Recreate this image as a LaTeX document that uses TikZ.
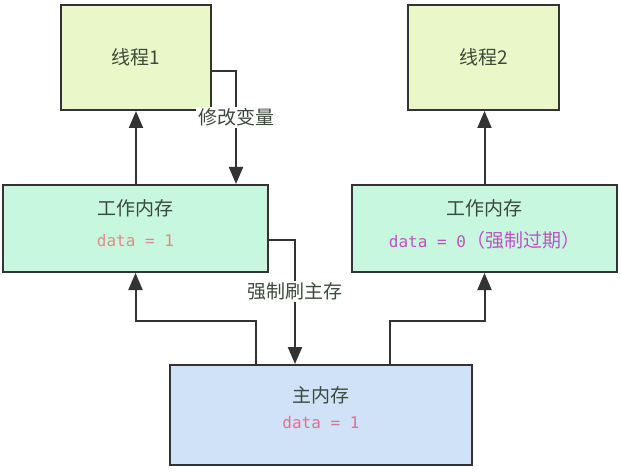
\documentclass[tikz,border=0pt]{standalone}
\usepackage{fontspec}
\usetikzlibrary{arrows.meta,calc}
\newfontfamily\cjk{Noto Sans CJK SC}
\newfontfamily\monof{DejaVu Sans Mono}
\definecolor{threadfill}{HTML}{EAF8C9}
\definecolor{workfill}{HTML}{C8F7E0}
\definecolor{mainfill}{HTML}{CFE2F8}
\definecolor{edge}{HTML}{333333}
\definecolor{txt}{HTML}{3C4A3C}
\definecolor{dataA}{HTML}{DC8E86}
\definecolor{dataB}{HTML}{C050C8}
\definecolor{dataC}{HTML}{E07090}
\begin{document}
\begin{tikzpicture}[x=1pt,y=-1pt,
  box/.style={draw=edge,line width=2pt,rectangle,inner sep=0pt,font=\cjk\fontsize{19}{22}\selectfont,text=txt,align=center},
  arr/.style={draw=edge,line width=2pt,-{Triangle[width=14pt,length=17pt]}},
  lbl/.style={fill=white,inner sep=2pt,font=\cjk\fontsize{19}{22}\selectfont,text=txt}]
\useasboundingbox (0,0) rectangle (621,473);
\node[box,fill=threadfill,minimum width=150pt,minimum height=105pt] (t1) at (136,57.5) {线程1};
\node[box,fill=threadfill,minimum width=151pt,minimum height=105pt] (t2) at (483.5,57.5) {线程2};
\node[box,fill=workfill,minimum width=265pt,minimum height=87pt] (w1) at (135.5,228.5) {};
\node[box,fill=workfill,minimum width=265pt,minimum height=87pt] (w2) at (484.5,228.5) {};
\node[box,fill=mainfill,minimum width=302pt,minimum height=100pt] (m) at (321,415) {};
% texts in boxes
\node[font=\cjk\fontsize{19}{22}\selectfont,text=txt] (w1a) at ([yshift=20pt]w1.center) {工作内存};
\node[font=\monof\fontsize{16}{20}\selectfont,text=dataA] (w1b) at ([yshift=-12pt]w1.center) {data = 1};
\node[font=\cjk\fontsize{19}{22}\selectfont,text=txt] (w2a) at ([yshift=20pt]w2.center) {工作内存};
\node[text=dataB,inner sep=0pt] (w2b) at ([yshift=-12pt]w2.center) {{\monof\fontsize{16}{20}\selectfont data = 0}{\cjk\fontsize{19}{22}\selectfont（强制过期）}};
\node[font=\cjk\fontsize{19}{22}\selectfont,text=txt] (ma) at ([yshift=20pt]m.center) {主内存};
\node[font=\monof\fontsize{16}{20}\selectfont,text=dataC] (mb) at ([yshift=-8pt]m.center) {data = 1};
% connectors
\draw[arr] (t1.south |- w1.north) -- (t1.south);
\draw[arr] ([yshift=-13.5pt]t1.east) -| coordinate[pos=0.706] (lm) ($(w1.north)+(100.5,0)$);
\node[lbl] (lmod) at (lm) {修改变量};
\draw[arr] ([yshift=-11.5pt]w1.east) -| coordinate[pos=0.708] (lf) ($(m.north)+(-26,0)$);
\node[lbl] (lflush) at (lf) {强制刷主存};
\draw[arr] ([xshift=-65pt]m.north) |- ([yshift=-48pt]w1.south) -- (w1.south);
\draw[arr] ([xshift=69pt]m.north) |- ([yshift=-48pt]w2.south) -- (w2.south);
\draw[arr] (w2.north) -- (w2.north |- t2.south);
\end{tikzpicture}
\end{document}
